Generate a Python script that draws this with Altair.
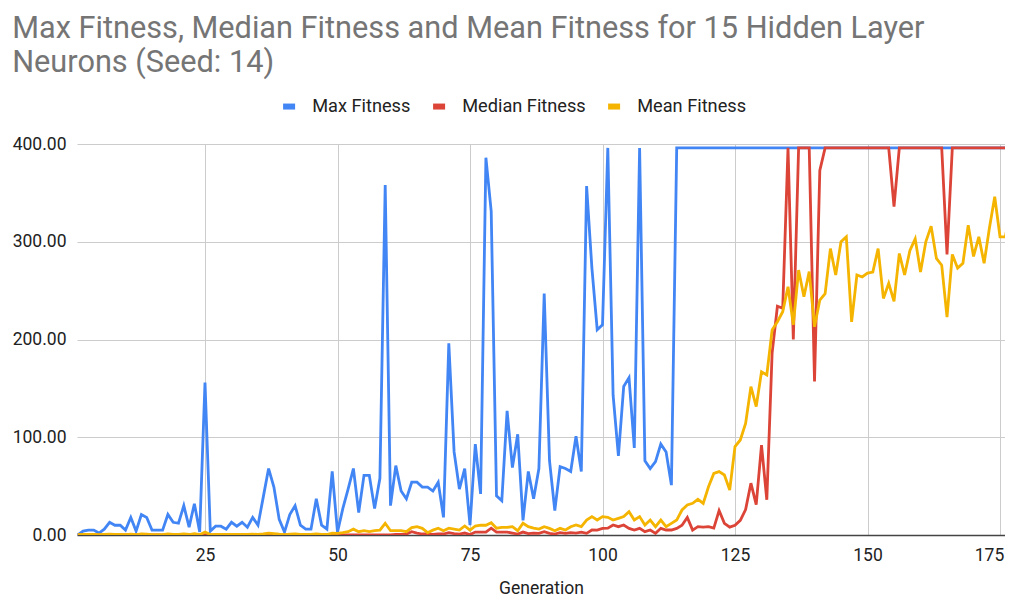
import altair as alt
import pandas as pd

GEN = list(range(1, 179))
SERIES = ["Max Fitness", "Median Fitness", "Mean Fitness"]
COLORS = ["#4285F4", "#DB4437", "#F4B400"]
X_TICKS = [25, 50, 75, 100, 125, 150, 175]
Y_TICKS = [0, 100, 200, 300, 400]
TITLE_LINES = ["Max Fitness, Median Fitness and Mean Fitness for 15 Hidden Layer",
               "Neurons (Seed: 14)"]

MAX_FITNESS = [
    0, 4, 5, 5, 2, 6, 13, 10, 10, 5,
    18, 4, 21, 18, 5, 5, 5, 21, 13, 12,
    30, 8, 32, 3, 156, 4, 9, 9, 6, 13,
    9, 13, 8, 18, 10, 39, 68, 49, 16, 3,
    21, 30, 10, 6, 6, 37, 10, 6, 65, 3,
    27, 47, 68, 23, 61, 61, 27, 58, 358, 30,
    71, 45, 37, 54, 54, 49, 49, 45, 54, 18,
    196, 85, 47, 68, 10, 93, 42, 386, 331, 40,
    35, 127, 69, 103, 15, 65, 37, 68, 247, 76,
    25, 70, 68, 65, 101, 65, 357, 273, 210, 215,
    396, 143, 81, 152, 161, 89, 396, 76, 68, 75,
    93, 85, 51, 396, 396, 396, 396, 396, 396, 396,
    396, 396, 396, 396, 396, 396, 396, 396, 396, 396,
    396, 396, 396, 396, 396, 396, 396, 396, 396, 396,
    396, 396, 396, 396, 396, 396, 396, 396, 396, 396,
    396, 396, 396, 396, 396, 396, 396, 396, 396, 396,
    396, 396, 396, 396, 396, 396, 396, 396, 396, 396,
    396, 396, 396, 396, 396, 396, 396, 396,
]

MEDIAN_FITNESS = [
    0, 0, 0, 0, 0, 0, 0, 0, 0, 0,
    0, 0, 0, 0, 0, 0, 0, 0, 0, 0,
    0, 0, 0, 0, 0, 0, 0, 0, 0, 0,
    0, 0, 0, 0, 0, 0, 0, 0, 0, 0,
    0, 0, 0, 0, 0, 0, 0, 0, 0, 0,
    0, 0, 0, 0, 0, 0, 0, 0, 0, 0,
    0.5, 0.5, 1, 3.4, 2, 1, 1, 0.5, 1, 1,
    2.4, 1.5, 1, 2, 0.5, 3, 3, 3, 7, 3,
    3, 3, 2, 1, 3, 1.5, 2, 1.7, 3.4, 1.7,
    1, 2.5, 1.7, 2.5, 2, 3, 1.7, 5.1, 5, 6.8,
    7, 10.2, 8.5, 10.2, 6.8, 5.1, 6.8, 3.4, 5.1, 1.7,
    6.8, 5.1, 5.1, 6.8, 10, 18, 5, 8.5, 8, 8.5,
    7, 25, 12, 8, 10, 15, 26, 53, 31, 92,
    36, 186, 234, 232, 396, 200, 396, 396, 396, 157,
    373, 396, 396, 396, 396, 396, 396, 396, 396, 396,
    396, 396, 396, 396, 336, 396, 396, 396, 396, 396,
    396, 396, 396, 396, 287, 396, 396, 396, 396, 396,
    396, 396, 396, 396, 396, 396, 396, 396,
]

MEAN_FITNESS = [
    0.3, 0.5, 0.5, 0.5, 0.3, 0.5, 0.8, 0.6, 0.6, 0.4,
    0.9, 0.4, 1, 0.9, 0.4, 0.4, 0.4, 1, 0.7, 0.7,
    1.2, 0.5, 1.3, 0.3, 3, 0.4, 0.6, 0.6, 0.5, 0.7,
    0.6, 0.7, 0.5, 0.9, 0.6, 1.2, 2, 1.5, 0.8, 0.4,
    0.9, 1.1, 0.6, 0.5, 0.5, 1.2, 0.6, 0.5, 2, 1.7,
    2.4, 3.4, 6, 3.4, 4.4, 3.4, 4.4, 5, 12, 4.4,
    4.4, 4.4, 3.4, 7.5, 8.5, 6.8, 2.4, 5, 7, 4.4,
    7, 6, 5, 9.2, 5, 9.2, 10, 10, 12.5, 7,
    7.8, 7.8, 8.5, 4.4, 12, 8.5, 7, 6, 8.5, 6.8,
    4.4, 6.8, 5.1, 8.5, 10.2, 8.5, 15.3, 18.8, 15.3, 18.8,
    18.1, 15.3, 17, 18.8, 23.9, 15.3, 18.8, 10.2, 15.3, 8.5,
    15.3, 8.5, 11.9, 15.3, 25.6, 30.7, 32.4, 36.5, 32.4, 49.4,
    63, 64.8, 61.4, 46, 90.4, 97.2, 114.2, 151.7, 131.3, 167,
    163.7, 209.7, 218.2, 228.4, 254, 215, 271, 243.8, 269.4, 213,
    240.4, 247, 293, 266, 300, 305, 218, 266, 264, 268,
    269, 293, 242, 257.5, 239, 288, 266, 291, 303, 269,
    300, 316, 283, 276, 223, 287, 273, 278, 317, 285,
    305, 278, 314, 346, 305, 305, 333, 323,
]

rows = []
for name, vals in zip(SERIES, [MAX_FITNESS, MEDIAN_FITNESS, MEAN_FITNESS]):
    for g, v in zip(GEN, vals):
        rows.append({"Generation": g, "Series": name, "Fitness": v})
df = pd.DataFrame(rows)

FONT = "Roboto"

color = alt.Color(
    "Series:N",
    scale=alt.Scale(domain=SERIES, range=COLORS),
    legend=alt.Legend(
        title=None, orient="none", legendX=203, legendY=-47,
        direction="horizontal", symbolType="stroke", symbolStrokeWidth=6,
        symbolSize=144, labelFontSize=18.2, labelColor="#222222",
        labelFont=FONT, columnPadding=10, labelOffset=14,
    ),
)

base = alt.Chart(df).mark_line(strokeWidth=2.8, clip=True).encode(
    x=alt.X(
        "Generation:Q",
        scale=alt.Scale(domain=[0.85, 175.94], nice=False, zero=False),
        axis=alt.Axis(
            values=X_TICKS, title="Generation", grid=True, gridColor="#cccccc",
            ticks=False, domainColor="#444444", domainWidth=1.5,
            labelFontSize=17.5, labelColor="#222222", labelPadding=11,
            labelOffset={"condition": {"test": "datum.value === 175", "value": -11},
                         "value": 0},
            titleFontSize=17.5, titleFontWeight="normal", titleColor="#222222",
            titlePadding=16, labelFont=FONT, titleFont=FONT,
        ),
    ),
    y=alt.Y(
        "Fitness:Q",
        scale=alt.Scale(domain=[0, 400], nice=False),
        axis=alt.Axis(
            values=Y_TICKS, format=".2f", title=None, grid=True,
            gridColor="#cccccc", ticks=False, domain=False,
            labelFontSize=17.5, labelColor="#222222", labelPadding=11,
            labelFont=FONT,
        ),
    ),
    color=color,
)

layers = [base.transform_filter(alt.datum.Series == s) for s in SERIES]

chart = alt.layer(*layers).properties(
    width=928,
    height=391,
    autosize=alt.AutoSizeParams(type="none"),
    padding={"left": 69, "top": 136, "right": 0, "bottom": 63},
    title=alt.Title(
        TITLE_LINES, anchor="start", fontSize=30.7, font=FONT,
        fontWeight="normal", color="#757575", lineHeight=34, offset=18,
    ),
).configure_view(strokeWidth=0)

chart.save("out.html", embed_options={"renderer": "svg", "actions": False})
